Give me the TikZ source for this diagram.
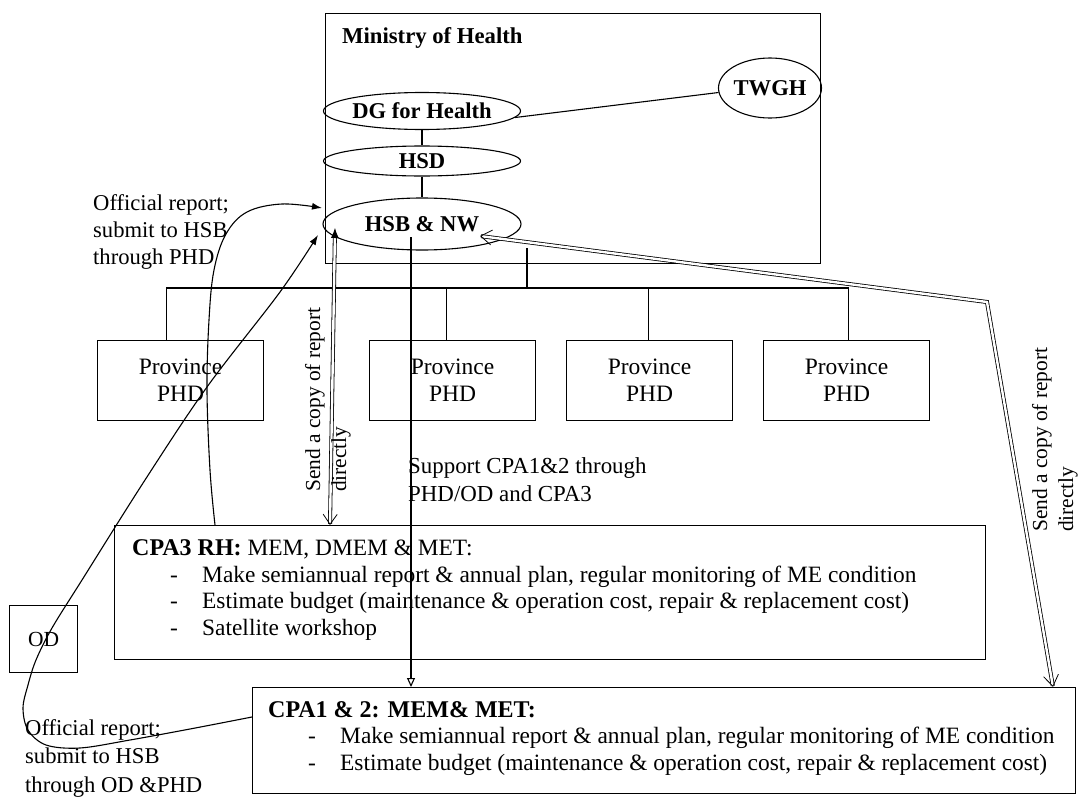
\documentclass[tikz,border=0pt]{standalone}
\usepackage{fontspec}
\setmainfont{Liberation Serif}
\usetikzlibrary{arrows.meta,shapes.geometric,calc}
\newcommand\fsz[2]{\fontsize{#1}{#2}\selectfont}

\begin{document}
\begin{tikzpicture}[x=1pt,y=-1pt,
  box/.style={draw,line width=1.1pt,inner sep=0pt,anchor=north west},
  phd/.style={box,minimum width=166pt,minimum height=80pt,align=center,font=\fsz{23.5}{27}},
  oval/.style={draw,ellipse,line width=1.1pt,inner sep=0pt,font=\bfseries\fsz{22.6}{26}},
  body/.style={inner sep=0pt,anchor=base west,font=\fsz{23.4}{27}},
  note/.style={inner sep=0pt,anchor=base west,align=left,font=\fsz{22.6}{27}},
  side/.style={inner sep=0pt,anchor=base west,align=left,rotate=90,font=\fsz{21.4}{26}},
  link/.style={line width=1.1pt},
  dbl/.style={double,double distance=2.4pt,line width=0.8pt},
  barbtip/.tip={Straight Barb[length=11pt,width=15pt]},
  solidtip/.tip={Latex[length=10pt,width=7pt]}
]
\useasboundingbox (0,0) rectangle (1080,798);

% Ministry of Health and its units
\node[box,minimum width=495pt,minimum height=250pt] (moh) at (325,13) {};
\node[inner sep=0pt,anchor=base west,font=\bfseries\fsz{22.7}{26}] (mohtitle) at (342,43) {Ministry of Health};
\node[oval,minimum width=197pt,minimum height=37pt] (dg) at (422,111) {DG for Health};
\node[oval,minimum width=197pt,minimum height=30pt] (hsd) at (422,161) {HSD};
\node[oval,minimum width=198pt,minimum height=52pt] (hsb) at (422,224) {HSB \& NW};
\node[oval,minimum width=97pt,minimum height=60pt] (twgh) at (770,88) {TWGH};
\draw[link] (dg.south) -- (hsd.north);
\draw[link] (hsd.south) -- (hsb.north);
\draw[link] (dg.-4) -- (twgh.185);

% provincial health departments
\node[phd] (p1) at (97,340) {Province\\PHD};
\node[phd] (p2) at (369,340) {Province\\PHD};
\node[phd] (p3) at (566,340) {Province\\PHD};
\node[phd] (p4) at (763,340) {Province\\PHD};
\coordinate (trunk) at (527,248);
\coordinate (bar) at (527,288);
\coordinate (d1) at ($(p1.north)+(-14,0)$);
\coordinate (d2) at ($(p2.north)+(-6,0)$);
\coordinate (d3) at ($(p3.north)+(-1,0)$);
\coordinate (d4) at ($(p4.north)+(2,0)$);
\draw[link] (trunk) -- (bar);
\draw[link] (d1) -- (d1 |- bar) -- (d4 |- bar) -- (d4);
\draw[link] (d2) -- (d2 |- bar);
\draw[link] (d3) -- (d3 |- bar);

% referral hospital (CPA3)
\node[box,minimum width=871pt,minimum height=134pt] (cpa3) at (114,525) {};
\node[body] (c3t) at (132,555) {\textbf{\fsz{24}{27}CPA3 RH:} MEM, DMEM \& MET:};
\node[body] (c3d1) at (170,582) {-};
\node[body] (c3l1) at (202,582) {Make semiannual report \& annual plan, regular monitoring of ME condition};
\node[body] (c3d2) at (170,608) {-};
\node[body] (c3l2) at (202,608) {Estimate budget (maintenance \& operation cost, repair \& replacement cost)};
\node[body] (c3d3) at (170,635) {-};
\node[body] (c3l3) at (202,635) {Satellite workshop};

% health centres (CPA1 & 2)
\node[box,minimum width=823pt,minimum height=106pt] (cpa12) at (252,687) {};
\node[body,font=\bfseries\fsz{24}{27}] (c12t) at (268,717) {CPA1 \& 2: MEM\& MET:};
\node[body] (c12d1) at (308,743) {-};
\node[body] (c12l1) at (340,743) {Make semiannual report \& annual plan, regular monitoring of ME condition};
\node[body] (c12d2) at (308,770) {-};
\node[body] (c12l2) at (340,770) {Estimate budget (maintenance \& operation cost, repair \& replacement cost)};

% operational district
\node[box,minimum width=68pt,minimum height=67pt,font=\fsz{21.5}{26}] (od) at (9,605) {OD};

% support line from HSB down to the health centres
\coordinate (sup) at ($(hsb.center)+(-11,13)$);
\draw[link,-{Triangle[open,length=9pt,width=8pt]}] (sup) -- (sup |- cpa12.north);
\node[note,font=\fsz{22.9}{28}] (suplbl) at (408,501) {Support CPA1\&2 through\\PHD/OD and CPA3};

% copy of report sent directly from CPA3
\coordinate (l3top) at (335,228);
\coordinate (l3bot) at ($(cpa3.north west)+(216,0)$);
\draw[dbl,{Latex[length=10pt,width=8pt]}-{Straight Barb[length=10pt,width=14pt]}] (l3top) -- (l3bot);
\node[side] (l3lbl) at (346,492) {Send a copy of report\\directly};

% copy of report sent directly from CPA1 & 2
\coordinate (r12top) at ($(hsb.center)+(58,12)$);
\coordinate (rbend) at (987,302);
\coordinate (r12bot) at ($(cpa12.north west)+(801,0)$);
\draw[dbl,barbtip-barbtip] (r12top) -- (rbend) -- (r12bot);
\node[side] (r12lbl) at (1073,532) {Send a copy of report\\directly};

% official report from CPA3 through the PHD
\coordinate (c3out) at ($(cpa3.north west)+(101,0)$);
\coordinate (hsbin1) at (322,208);
\draw[link,-solidtip] plot[smooth,tension=0.6] coordinates {(c3out) (210,470) (207,390) (209,320) (214,270) (226,234) (247,212) (282,204) (hsbin1)};
\node[note] (rep1) at (93,264) {Official report;\\submit to HSB\\through PHD};

% official report from CPA1 & 2 through the OD and PHD
\coordinate (c12out) at ($(cpa12.north west)+(0,30)$);
\coordinate (hsbin2) at (318,235);
\draw[link,-solidtip] plot[smooth,tension=0.55] coordinates {(c12out) (190,729) (130,740) (80,748) (46,745) (28,730) (23,708) (28,685) (36,660) (52,628) (82,580) (145,480) (207,387) (280,292) (hsbin2)};
\node[note,font=\fsz{22.6}{28.5}] (rep2) at (25,792) {Official report;\\submit to HSB\\through OD \&PHD};
\end{tikzpicture}
\end{document}
